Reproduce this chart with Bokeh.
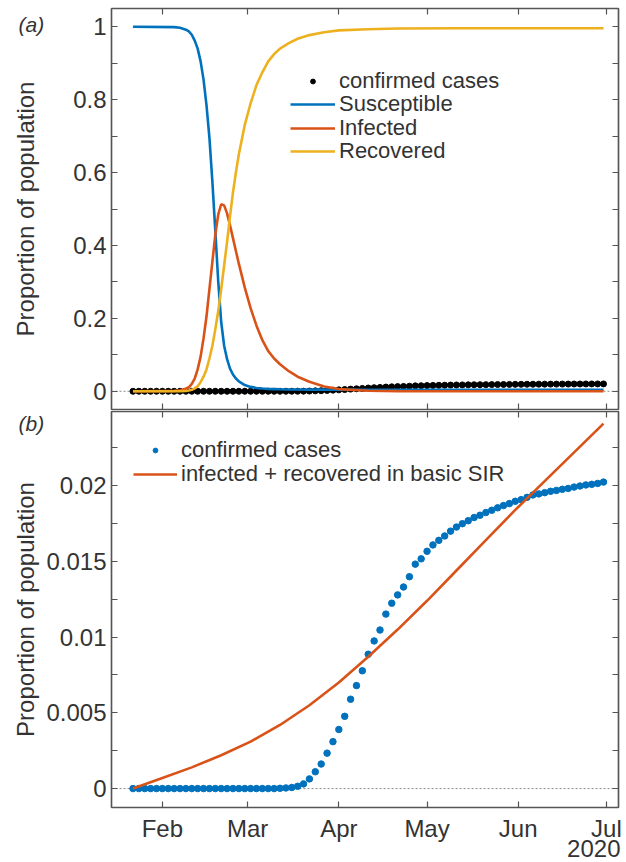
import numpy as np
import pandas as pd
from bokeh.plotting import figure
from bokeh.layouts import column
from bokeh.models import (LinearAxis, DatetimeAxis, FixedTicker, Range1d, Span, Title,
                          Legend, LegendItem, CustomJSTickFormatter, DatetimeTickFormatter)
from bokeh.embed import file_html
from bokeh.resources import INLINE

# ---------------- data ----------------
FEB1 = pd.Timestamp("2020-02-01")
obs_dates = pd.date_range("2020-01-22", "2020-06-30", freq="2D")  # 81 observations
confirmed = [0, 0, 0, 0, 0, 0, 0, 0, 0, 0,
             0, 0, 0, 0, 0, 0, 0, 0, 0, 0,
             0, 0, 0, 0, 0, 0.00002, 0.00004, 0.00007, 0.00015,
             0.00031, 0.00064, 0.00111, 0.00162, 0.00234, 0.0031, 0.0039, 0.00477, 0.0059, 0.0068,
             0.00778, 0.00887, 0.00975, 0.01047, 0.01152, 0.01224, 0.01279, 0.01331, 0.01399, 0.01482,
             0.01517, 0.01567, 0.01609, 0.01639, 0.01668, 0.017, 0.01727, 0.01749, 0.01769, 0.0179,
             0.01805, 0.01823, 0.01838, 0.01854, 0.01869, 0.01882, 0.01897, 0.01908, 0.01923, 0.01939,
             0.01946, 0.01954, 0.01963, 0.01969, 0.01976, 0.01982, 0.01991, 0.01998, 0.02005, 0.02009,
             0.02015, 0.02024]

# SIR model (panel a), day offsets from 1 Feb 2020
sir_days = [-10, 4, 6, 8, 9, 10, 11, 12, 13, 14, 15, 16, 17, 18, 19, 20, 21, 22, 23, 24, 25, 26,
            28, 30, 32, 34, 36, 38, 40, 43, 46, 50, 55, 60, 70, 80, 100, 150]
susceptible = [1.0, 0.999, 0.997, 0.992, 0.987, 0.978, 0.962, 0.94, 0.905, 0.855, 0.785, 0.695,
               0.575, 0.44, 0.30, 0.19, 0.125, 0.088, 0.062, 0.046, 0.035, 0.027,
               0.017, 0.012, 0.009, 0.0075, 0.0065, 0.006, 0.0055, 0.005, 0.005, 0.0045, 0.0045,
               0.0045, 0.004, 0.004, 0.004, 0.004]
infected = [0, 0.001, 0.003, 0.007, 0.011, 0.02, 0.035, 0.06, 0.095, 0.145, 0.205, 0.28,
            0.355, 0.43, 0.485, 0.513, 0.51, 0.488, 0.455, 0.42, 0.385, 0.35,
            0.285, 0.228, 0.18, 0.14, 0.11, 0.09, 0.074, 0.055, 0.04, 0.026, 0.013,
            0.006, 0.0015, 0.0003, 0, 0]
recovered = [0, 0, 0, 0.001, 0.002, 0.004, 0.008, 0.014, 0.025, 0.04, 0.06, 0.09,
             0.125, 0.17, 0.22, 0.28, 0.345, 0.41, 0.48, 0.545, 0.6, 0.65,
             0.73, 0.79, 0.84, 0.875, 0.905, 0.925, 0.94, 0.955, 0.967, 0.977, 0.985,
             0.99, 0.993, 0.995, 0.996, 0.996]

# basic SIR infected + recovered (panel b)
ir_days = [-10, 0, 10, 20, 30, 40, 50, 60, 70, 80, 90, 100, 110, 120, 130, 140, 150]
ir_values = [0, 0.0007, 0.0014, 0.0022, 0.0031, 0.0042, 0.0055, 0.0070, 0.0087, 0.0105,
             0.0124, 0.0144, 0.0164, 0.0184, 0.0203, 0.0222, 0.0241]

month_ticks = ["2020-02-01", "2020-03-01", "2020-04-01", "2020-05-01", "2020-06-01", "2020-07-01"]
year_label = "2020"
ya_ticks = [0, 0.2, 0.4, 0.6, 0.8, 1]
ya_minor = [0.1, 0.3, 0.5, 0.7, 0.9]
yb_ticks = [0, 0.005, 0.01, 0.015, 0.02]
yb_minor = [0.0025, 0.0075, 0.0125, 0.0175, 0.0225]

# ---------------- styling ----------------
BLUE, ORANGE, YELLOW = "#0072BD", "#D95319", "#EDB120"
FONT = "Liberation Sans"
AXC = "#555555"
TXC = "#333333"

sir_dates = pd.DatetimeIndex([FEB1 + pd.Timedelta(days=d) for d in sir_days])
ir_dates = pd.DatetimeIndex([FEB1 + pd.Timedelta(days=d) for d in ir_days])
xt = [pd.Timestamp(t).value / 1e6 for t in month_ticks]

x_range = Range1d(FEB1 - pd.Timedelta(days=17.3), FEB1 + pd.Timedelta(days=155.1))

xfmt = DatetimeTickFormatter(months="%b", days="%b")
yfmt = CustomJSTickFormatter(code="return tick.toString();")
blank = CustomJSTickFormatter(code="return '';")


def style(ax, labels=True):
    ax.axis_line_color = AXC
    ax.axis_line_width = 1.5
    ax.major_tick_line_color = AXC
    ax.minor_tick_line_color = AXC
    ax.major_tick_line_width = 1.2
    ax.minor_tick_line_width = 1.2
    ax.major_tick_in = 6
    ax.major_tick_out = 0
    ax.minor_tick_in = 6
    ax.minor_tick_out = 0
    ax.major_label_text_font = FONT
    ax.major_label_text_color = TXC
    if labels:
        ax.major_label_text_font_size = "24px"
        ax.major_label_standoff = 5
    else:
        ax.formatter = blank
        ax.major_label_text_font_size = "0px"
        ax.major_label_standoff = 0


def make_fig(height, yr, yt, ym, bottom_labels, label_standoff, top_b, bottom_b):
    p = figure(width=626, height=height, x_axis_type="datetime", x_range=x_range,
               y_range=yr, output_backend="svg", toolbar_location=None,
               min_border_left=111, min_border_right=8, min_border_top=top_b,
               min_border_bottom=bottom_b)
    p.grid.visible = False
    p.outline_line_color = AXC
    p.outline_line_width = 1.2
    p.background_fill_color = "white"
    p.border_fill_color = "white"
    yl = p.yaxis[0]
    yl.ticker = FixedTicker(ticks=yt, minor_ticks=ym)
    yl.formatter = yfmt
    style(yl)
    yl.axis_label = "Proportion of population"
    yl.axis_label_text_font = FONT
    yl.axis_label_text_font_size = "24px"
    yl.axis_label_text_font_style = "normal"
    yl.axis_label_text_color = TXC
    yl.axis_label_standoff = label_standoff
    xb = p.xaxis[0]
    xb.ticker = FixedTicker(ticks=xt, minor_ticks=[])
    if bottom_labels:
        xb.formatter = xfmt
    style(xb, labels=bottom_labels)
    if bottom_labels:
        xb.major_label_standoff = 7
    yr_ax = LinearAxis(ticker=FixedTicker(ticks=yt, minor_ticks=ym))
    style(yr_ax, labels=False)
    p.add_layout(yr_ax, "right")
    xt_ax = DatetimeAxis(ticker=FixedTicker(ticks=xt, minor_ticks=[]))
    style(xt_ax, labels=False)
    p.add_layout(xt_ax, "above")
    p.add_layout(Span(location=0, dimension="width", line_color="#8a8a8a",
                      line_dash="2 2", line_width=1, level="underlay"))
    return p


def panel_tag(p, text, standoff):
    # negative standoff pulls the tag down beside the top of the frame
    p.add_layout(Title(text=text, align="left", offset=-93, standoff=standoff,
                       vertical_align="bottom", text_font=FONT, text_font_size="21px",
                       text_font_style="italic", text_color=TXC), "above")


def add_legend_row(p, label, renderer, y, x, gw):
    p.add_layout(Legend(items=[LegendItem(label=label, renderers=[renderer])],
                        location=(x, y), padding=0, margin=0, spacing=0,
                        glyph_width=gw, glyph_height=12, label_height=21, label_standoff=4,
                        label_text_font=FONT, label_text_font_size="22px",
                        label_text_color=TXC, border_line_color=None,
                        background_fill_alpha=0))


# ---------------- panel (a) ----------------
p1 = make_fig(410, Range1d(-0.05, 1.05), ya_ticks, ya_minor, False, 31, 8, 1)
r_c = p1.scatter(obs_dates, confirmed, size=6, color="black")
r_s = p1.line(sir_dates, susceptible, color=BLUE, line_width=2.6)
r_i = p1.line(sir_dates, infected, color=ORANGE, line_width=2.6)
r_r = p1.line(sir_dates, recovered, color=YELLOW, line_width=2.6)
for lab, ren, yy in [("confirmed cases", r_c, 315), ("Susceptible", r_s, 292),
                     ("Infected", r_i, 268), ("Recovered", r_r, 245)]:
    add_legend_row(p1, lab, ren, yy, 179, 45)
panel_tag(p1, "(a)", -54)

# ---------------- panel (b) ----------------
p2 = make_fig(452, Range1d(-0.00125, 0.0249), yb_ticks, yb_minor, True, 4, 1, 55)
r_c2 = p2.scatter(obs_dates, confirmed, size=6.5, color=BLUE)
r_ir = p2.line(ir_dates, ir_values, color=ORANGE, line_width=2.6)
add_legend_row(p2, "confirmed cases", r_c2, 344, 22, 44)
add_legend_row(p2, "infected + recovered in basic SIR", r_ir, 320, 22, 44)
panel_tag(p2, "(b)", -46)
p2.add_layout(Title(text=year_label, align="right", offset=-2, standoff=-10,
                    vertical_align="top", text_font=FONT, text_font_size="24px",
                    text_font_style="normal", text_color=TXC), "below")

layout = column(p1, p2, spacing=0)
open("out.html", "w").write(file_html(layout, INLINE))
